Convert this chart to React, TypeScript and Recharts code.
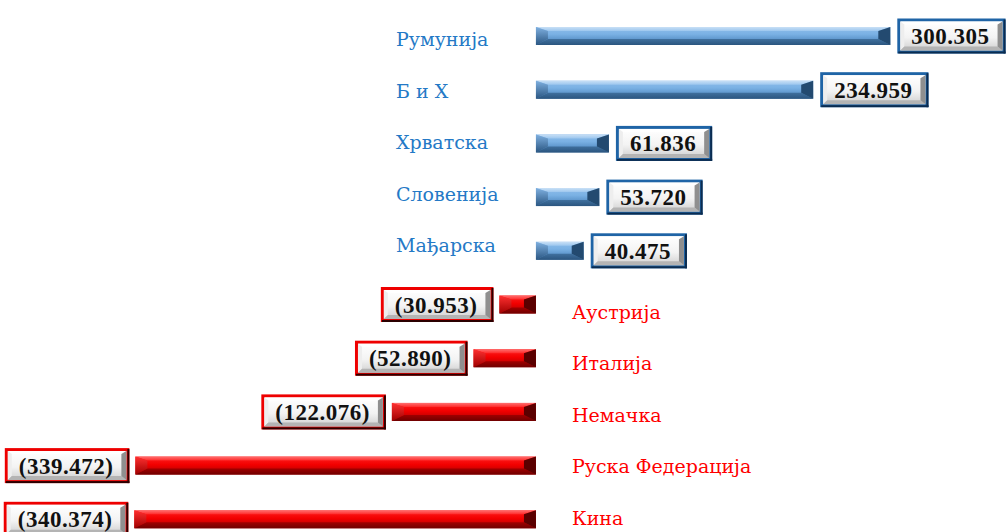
import React from "react";
import { BarChart, Bar, XAxis, YAxis } from "recharts";

// values in thousands, positive = surplus, negative = deficit
const CATEGORIES = [
  "Румунија",
  "Б и Х",
  "Хрватска",
  "Словенија",
  "Мађарска",
  "Аустрија",
  "Италија",
  "Немачка",
  "Руска Федерација",
  "Кина",
];
const VALUES = [
  300.305, 234.959, 61.836, 53.72, 40.475, -30.953, -52.89, -122.076,
  -339.472, -340.374,
];

const data = CATEGORIES.map((name, i) => ({ name, value: VALUES[i] }));

const VALUE_FAMILY = "'Liberation Serif', serif";
const VALUE_SIZE = 23;
const LETTER_SPACING = 0.5;

let measureCtx: CanvasRenderingContext2D | null = null;
function textWidth(s: string) {
  if (!measureCtx) {
    const c = document.createElement("canvas");
    measureCtx = c.getContext("2d");
  }
  if (!measureCtx) return s.length * 11;
  measureCtx.font = `bold ${VALUE_SIZE}px ${VALUE_FAMILY}`;
  return measureCtx.measureText(s).width + LETTER_SPACING * s.length;
}

function fmt(v: number) {
  const s = Math.abs(v).toFixed(3);
  return v < 0 ? `(${s})` : s;
}

const BevelBar = (props: any) => {
  const { x, y, width, height, payload, index } = props;
  const value = payload.value;
  const pos = value >= 0;
  const bx = width < 0 ? x + width : x;
  const w = Math.abs(width);
  const h = height;
  const zero = pos ? bx : bx + w;
  const end = pos ? bx + w : bx;
  const cy = y + h / 2;

  const b = Math.min(12, w / 2);
  const t = 4;
  const t2 = 6;
  const c = pos ? "blue" : "red";

  // label box
  const label = fmt(value);
  const tw = textWidth(label);
  const bw = tw + 30;
  const bh = 35;
  const boxX = pos ? end + 7 : end - 6 - bw;
  const boxY = cy - bh / 2;
  const ix = boxX + 3;
  const iy = boxY + 3;
  const iw = bw - 6;
  const ih = bh - 6;

  const catX = pos ? zero - 140 : zero + 36;
  const catY = cy + (pos ? 10 - 2.2 * index : 14.5 - 2.3 * (index - 5));

  return (
    <g>
      {/* bar */}
      <rect x={bx} y={y} width={w} height={h} fill={`url(#${c}Body)`} />
      <polygon
        points={`${bx},${y} ${bx + w},${y} ${bx + w - b},${y + t} ${bx + b},${y + t}`}
        fill={`url(#${c}Top)`}
      />
      <polygon
        points={`${bx},${y + h} ${bx + w},${y + h} ${bx + w - b},${y + h - t2} ${bx + b},${y + h - t2}`}
        fill={`url(#${c}Bottom)`}
      />
      <polygon
        points={`${bx},${y} ${bx + b},${y + t} ${bx + b},${y + h - t2} ${bx},${y + h}`}
        fill={`url(#${c}Left)`}
      />
      <polygon
        points={`${bx + w},${y} ${bx + w - b},${y + t} ${bx + w - b},${y + h - t2} ${bx + w},${y + h}`}
        fill={pos ? "#234a70" : "#5a0000"}
      />

      {/* value box */}
      <rect x={boxX} y={boxY} width={bw} height={bh} fill={pos ? "#1f64a6" : "#ee0000"} />
      <rect x={boxX + bw - 2} y={boxY + 1} width={2} height={bh - 1} fill={pos ? "#0b2c50" : "#2a0000"} />
      <rect x={boxX + 1} y={boxY + bh - 2} width={bw - 1} height={2} fill={pos ? "#0b2c50" : "#2a0000"} />
      <rect x={ix} y={iy} width={iw} height={ih} fill="url(#boxFill)" />
      <polygon
        points={`${ix},${iy} ${ix + iw},${iy} ${ix + iw - 5},${iy + 3} ${ix + 4},${iy + 3}`}
        fill="#ffffff"
      />
      <polygon
        points={`${ix},${iy} ${ix + 4},${iy + 3} ${ix + 4},${iy + ih - 4} ${ix},${iy + ih}`}
        fill="#eeeeee"
      />
      <polygon
        points={`${ix},${iy + ih} ${ix + iw},${iy + ih} ${ix + iw - 5},${iy + ih - 4} ${ix + 4},${iy + ih - 4}`}
        fill="#b4b4b4"
      />
      <polygon
        points={`${ix + iw},${iy} ${ix + iw - 5},${iy + 3} ${ix + iw - 5},${iy + ih - 4} ${ix + iw},${iy + ih}`}
        fill="#8f8f8f"
      />
      <text
        x={boxX + bw / 2 - 1}
        y={cy + 8}
        textAnchor="middle"
        fill="#111"
        fontFamily={VALUE_FAMILY}
        fontWeight="bold"
        fontSize={VALUE_SIZE}
        letterSpacing={LETTER_SPACING}
      >
        {label}
      </text>

      {/* category name */}
      <text
        x={catX}
        y={catY}
        textAnchor="start"
        fill={pos ? "#2479c6" : "#ff0000"}
        fontFamily="'DejaVu Serif', serif"
        fontSize={19}
      >
        {payload.name}
      </text>
    </g>
  );
};

export default function App() {
  return (
    <div style={{ width: 1007, height: 532, overflow: "hidden", background: "#fff" }}>
      <style>{"body{margin:0;overflow:hidden}"}</style>
      <BarChart
        width={1007}
        height={546}
        data={data}
        layout="vertical"
        margin={{ top: 9, right: 0, bottom: 0, left: 0 }}
        barSize={18}
      >
        <defs>
          <linearGradient id="blueBody" x1="0" y1="0" x2="0" y2="1">
            <stop offset="0%" stopColor="#8fbdea" />
            <stop offset="40%" stopColor="#7ab1e4" />
            <stop offset="70%" stopColor="#5d95cb" />
            <stop offset="100%" stopColor="#41719f" />
          </linearGradient>
          <linearGradient id="blueTop" x1="0" y1="0" x2="0" y2="1">
            <stop offset="0%" stopColor="#c9e0f6" />
            <stop offset="100%" stopColor="#9cc6ee" />
          </linearGradient>
          <linearGradient id="blueBottom" x1="0" y1="0" x2="0" y2="1">
            <stop offset="0%" stopColor="#40709e" />
            <stop offset="100%" stopColor="#2b557f" />
          </linearGradient>
          <linearGradient id="blueLeft" x1="0" y1="0" x2="0" y2="1">
            <stop offset="0%" stopColor="#7fb0e0" />
            <stop offset="100%" stopColor="#2a5682" />
          </linearGradient>
          <linearGradient id="redBody" x1="0" y1="0" x2="0" y2="1">
            <stop offset="0%" stopColor="#ff2020" />
            <stop offset="45%" stopColor="#f20000" />
            <stop offset="75%" stopColor="#c80000" />
            <stop offset="100%" stopColor="#9a0000" />
          </linearGradient>
          <linearGradient id="redTop" x1="0" y1="0" x2="0" y2="1">
            <stop offset="0%" stopColor="#ff7070" />
            <stop offset="100%" stopColor="#ff2a2a" />
          </linearGradient>
          <linearGradient id="redBottom" x1="0" y1="0" x2="0" y2="1">
            <stop offset="0%" stopColor="#a00000" />
            <stop offset="100%" stopColor="#700000" />
          </linearGradient>
          <linearGradient id="redLeft" x1="0" y1="0" x2="0" y2="1">
            <stop offset="0%" stopColor="#ff3030" />
            <stop offset="100%" stopColor="#a00000" />
          </linearGradient>
          <linearGradient id="boxFill" x1="0" y1="0" x2="0" y2="1">
            <stop offset="0%" stopColor="#ffffff" />
            <stop offset="55%" stopColor="#f3f3f3" />
            <stop offset="100%" stopColor="#cfcfcf" />
          </linearGradient>
        </defs>
        <XAxis type="number" domain={[-454.2, 399.2]} hide />
        <YAxis type="category" dataKey="name" hide />
        <Bar dataKey="value" shape={<BevelBar />} isAnimationActive={false} />
      </BarChart>
    </div>
  );
}
